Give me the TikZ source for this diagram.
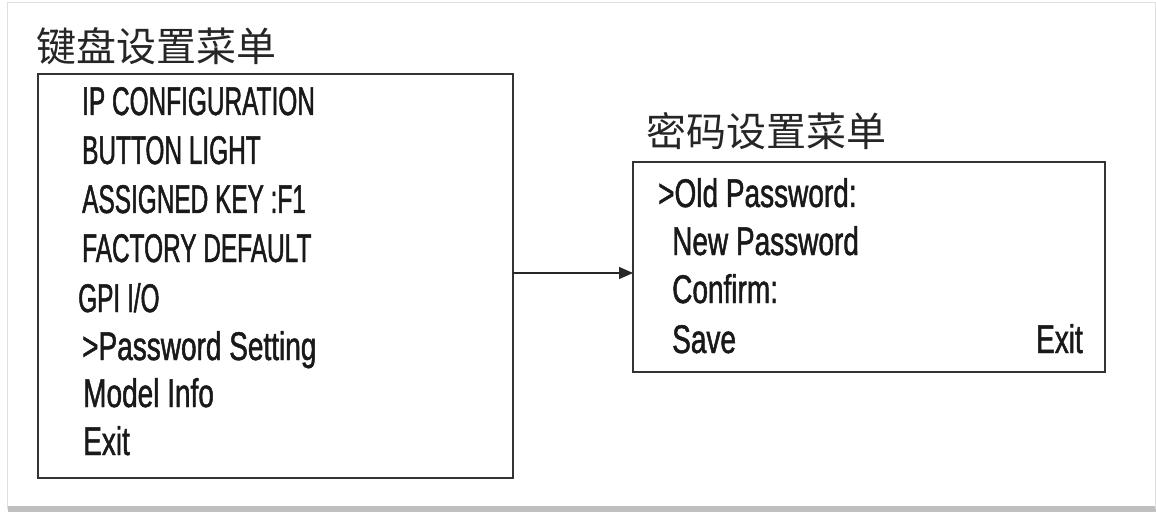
\documentclass[tikz,border=0pt]{standalone}
\usepackage{fontspec}
\usetikzlibrary{arrows.meta}
\newfontfamily\cjk{Noto Sans CJK SC}
\newfontfamily\capsfont[FakeStretch=0.61,FakeBold=1.2]{Liberation Sans}
\newfontfamily\mixfont[FakeStretch=0.70,FakeBold=1.2]{Liberation Sans}
\begin{document}
\begin{tikzpicture}[x=1pt,y=-1pt,
  menubox/.style={draw=black!80,line width=1.6pt},
  title/.style={inner sep=0pt,anchor=west,text=black!85,font=\cjk\fontsize{40}{44}\selectfont},
  item/.style={inner sep=0pt,anchor=base west,text=black!90,font=\mixfont\fontsize{40}{44}\selectfont},
  capitem/.style={item,font=\capsfont\fontsize{40}{44}\selectfont},
  link/.style={draw=black!85,line width=1.3pt,-{Triangle[length=14pt,width=12pt]}}]
\useasboundingbox (0,0) rectangle (1156,513);
% outer frame with shadow
\fill[gray!50] (8,506) rectangle (1156,512);
\draw[gray!25,line width=1pt] (7,509) -- (7,3) -- (1155,3) -- (1155,509);
% boxes
\draw[menubox] (38,74) rectangle (513,478);
\draw[menubox] (633,162) rectangle (1105,372);
\coordinate (lbE) at (513,273);
\coordinate (rbW) at (633,273);
% titles
\node[title] (t1) at (36,46) {键盘设置菜单};
\node[title] (t2) at (646,131) {密码设置菜单};
% left menu
\node[capitem] (a1) at (82,115) {IP CONFIGURATION};
\node[capitem] (a2) at (82,164) {BUTTON LIGHT};
\node[capitem] (a3) at (82,213) {ASSIGNED KEY :F1};
\node[capitem] (a4) at (82,262) {FACTORY DEFAULT};
\node[capitem] (a5) at (78,312) {GPI I/O};
\node[item] (a6) at (82,360) {>Password Setting};
\node[item] (a7) at (83,407) {Model Info};
\node[item] (a8) at (83,455) {Exit};
% right menu
\node[item] (b1) at (658,207) {>Old Password:};
\node[item] (b2) at (672,255) {New Password};
\node[item] (b3) at (672,303) {Confirm:};
\node[item] (b4) at (672,353) {Save};
\node[item,anchor=base east] (b5) at (1083,353) {Exit};
% connector
\draw[link] (lbE) -- (rbW);
\end{tikzpicture}
\end{document}
